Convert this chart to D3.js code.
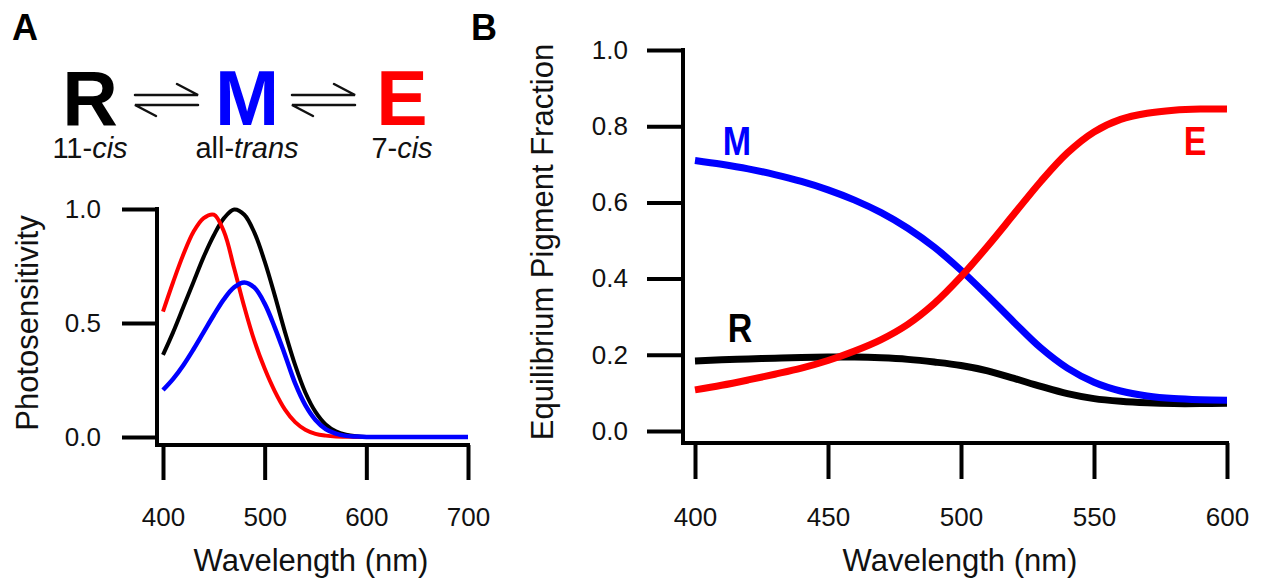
<!DOCTYPE html>
<html>
<head>
<meta charset="utf-8">
<script src="https://cdn.jsdelivr.net/npm/d3@7"></script>
<style>
    body { margin: 0; background: #fff; }
    svg text { font-family: Arial, "Liberation Sans", sans-serif; }
</style>
</head>
<body>
<div id="chart"></div>
<script>
// ---- data: panel A (photosensitivity spectra) ----
const wavelengthA = [400,410,420,430,440,450,460,470,480,490,500,510,520,530,540,550,560,570,580,590,600,620,640,660,680,700];
const sensR = [0.36,0.46,0.57,0.68,0.79,0.885,0.96,0.998,0.975,0.895,0.77,0.62,0.46,0.315,0.195,0.11,0.055,0.025,0.01,0.003,0,0,0,0,0,0];
const sensE = [0.55,0.68,0.80,0.90,0.96,0.975,0.90,0.74,0.57,0.42,0.30,0.20,0.12,0.065,0.032,0.014,0.006,0.002,0.001,0,0,0,0,0,0,0];
const sensM = [0.206,0.255,0.315,0.385,0.46,0.535,0.605,0.657,0.678,0.655,0.585,0.48,0.36,0.235,0.14,0.075,0.035,0.015,0.005,0.002,0,0,0,0,0,0];
const ticksAx = [400,500,600,700];
const ticksAy = [0,0.5,1];

// ---- data: panel B (equilibrium pigment fraction) ----
const wavelengthB = [400,410,420,430,440,450,460,470,480,490,500,510,520,530,540,550,560,570,580,590,600];
const fracM = [0.71,0.70,0.688,0.673,0.655,0.633,0.606,0.573,0.532,0.482,0.422,0.355,0.285,0.218,0.165,0.128,0.105,0.092,0.085,0.082,0.081];
const fracE = [0.108,0.12,0.134,0.149,0.165,0.185,0.21,0.24,0.28,0.335,0.405,0.485,0.57,0.655,0.73,0.785,0.818,0.834,0.842,0.845,0.845];
const fracR = [0.184,0.187,0.189,0.191,0.193,0.194,0.194,0.192,0.188,0.181,0.172,0.158,0.138,0.117,0.098,0.085,0.078,0.074,0.072,0.072,0.073];
const ticksBx = [400,450,500,550,600];
const ticksBy = [0,0.2,0.4,0.6,0.8,1.0];

const RED = "#ff0000", BLUE = "#0000ff", BLACK = "#000";

let svg = d3.select("#chart").append("svg")
    .attr("width", 1264)
    .attr("height", 581);

// generic IGOR-style axes: offset domain lines, long outward ticks
function drawAxes(x, y, opt) {
    let g = svg.append("g");

    // y axis
    let yAxis = g.append("g")
        .attr("transform", "translate(" + opt.yAxisX + ",0)")
        .call(d3.axisLeft(y).tickValues(opt.yTicks).tickSize(opt.tick)
            .tickPadding(opt.yPad).tickFormat(d3.format(".1f")));
    // x axis
    let xAxis = g.append("g")
        .attr("transform", "translate(0," + opt.xAxisY + ")")
        .call(d3.axisBottom(x).tickValues(opt.xTicks).tickSize(opt.tick)
            .tickPadding(opt.xPad).tickFormat(d3.format("d")));

    [yAxis, xAxis].forEach(a => {
        a.select(".domain").remove();
        a.selectAll("line").attr("stroke", "#000").attr("stroke-width", 4);
        a.selectAll("text").attr("font-size", "26px").attr("fill", "#111")
            .style("font-family", "Arial, 'Liberation Sans', sans-serif");
    });

    // domain lines
    g.append("line")
        .attr("x1", opt.yAxisX).attr("x2", opt.yAxisX)
        .attr("y1", y(opt.yTicks[opt.yTicks.length - 1]) - 2)
        .attr("y2", opt.xAxisY + 2)
        .attr("stroke", "#000").attr("stroke-width", 4);
    g.append("line")
        .attr("x1", opt.yAxisX - 2)
        .attr("x2", x(opt.xTicks[opt.xTicks.length - 1]) + 2)
        .attr("y1", opt.xAxisY).attr("y2", opt.xAxisY)
        .attr("stroke", "#000").attr("stroke-width", 4);

    // axis titles
    g.append("text")
        .attr("x", opt.xLabelX).attr("y", 571)
        .attr("text-anchor", "middle")
        .attr("font-size", "31px").attr("fill", "#111")
        .text("Wavelength (nm)");
    g.append("text")
        .attr("transform", "translate(" + opt.yLabelX + "," + opt.yLabelY + ") rotate(-90)")
        .attr("text-anchor", "middle")
        .attr("dominant-baseline", "central")
        .attr("font-size", "31px").attr("fill", "#111")
        .text(opt.yLabel);
}

function drawLine(x, y, xs, ys, color, width) {
    let line = d3.line()
        .curve(d3.curveCatmullRom.alpha(0.5))
        .x(d => x(d[0]))
        .y(d => y(d[1]));
    svg.append("path")
        .datum(xs.map((w, i) => [w, ys[i]]))
        .attr("d", line)
        .attr("fill", "none")
        .attr("stroke", color)
        .attr("stroke-width", width)
        .attr("stroke-linejoin", "round");
}

// ================= Panel A =================
let xA = d3.scaleLinear().domain([400, 700]).range([163, 468]);
let yA = d3.scaleLinear().domain([0, 1]).range([437, 209]);

drawAxes(xA, yA, {
    yAxisX: 157, xAxisY: 445, tick: 35, yPad: 21, xPad: 28,
    xTicks: ticksAx, yTicks: ticksAy,
    xLabelX: 311, yLabelX: 27, yLabelY: 323, yLabel: "Photosensitivity"
});

drawLine(xA, yA, wavelengthA, sensR, BLACK, 4);
drawLine(xA, yA, wavelengthA, sensE, RED, 4);
drawLine(xA, yA, wavelengthA, sensM, BLUE, 4.5);

// reaction scheme
const scheme = [
    {sym: "R", color: BLACK, x: 90, label: "11-", it: "cis"},
    {sym: "M", color: BLUE, x: 247, label: "all-", it: "trans"},
    {sym: "E", color: RED, x: 402, label: "7-", it: "cis"}
];
scheme.forEach(s => {
    svg.append("text")
        .attr("x", s.x).attr("y", 125)
        .attr("text-anchor", "middle")
        .attr("font-size", "77px").attr("font-weight", "bold")
        .attr("fill", s.color)
        .text(s.sym);
    let t = svg.append("text")
        .attr("x", s.x).attr("y", 158)
        .attr("text-anchor", "middle")
        .attr("font-size", "29px").attr("fill", "#111");
    t.append("tspan").text(s.label);
    t.append("tspan").attr("font-style", "italic").text(s.it);
});

// equilibrium harpoons
[135, 292].forEach(x0 => {
    let x1 = x0 + 63;
    let h = svg.append("g").attr("stroke", "#111").attr("stroke-width", 2.5)
        .attr("fill", "none").attr("stroke-linecap", "round");
    h.append("path").attr("d", `M${x0},95 L${x1},95 L${x1 - 21},84`);
    h.append("path").attr("d", `M${x1},105 L${x0},105 L${x0 + 21},116`);
});

// ================= Panel B =================
let xB = d3.scaleLinear().domain([400, 600]).range([695, 1227]);
let yB = d3.scaleLinear().domain([0, 1]).range([431, 50]);

drawAxes(xB, yB, {
    yAxisX: 683, xAxisY: 443, tick: 36, yPad: 19, xPad: 29,
    xTicks: ticksBx, yTicks: ticksBy,
    xLabelX: 960, yLabelX: 542, yLabelY: 242, yLabel: "Equilibrium Pigment Fraction"
});

drawLine(xB, yB, wavelengthB, fracR, BLACK, 7);
drawLine(xB, yB, wavelengthB, fracM, BLUE, 7);
drawLine(xB, yB, wavelengthB, fracE, RED, 7);

// curve labels
[{t: "M", c: BLUE, x: 737, y: 155}, {t: "E", c: RED, x: 1195, y: 155}, {t: "R", c: BLACK, x: 740, y: 342}]
    .forEach(l => {
        svg.append("text")
            .attr("x", l.x).attr("y", l.y)
            .attr("text-anchor", "middle")
            .attr("font-size", "40px").attr("font-weight", "bold")
            .attr("fill", l.c)
            .attr("transform", `translate(${l.x},0) scale(0.85,1) translate(${-l.x},0)`)
            .text(l.t);
    });

// panel letters
[{t: "A", x: 12}, {t: "B", x: 471}].forEach(p => {
    svg.append("text")
        .attr("x", p.x).attr("y", 40)
        .attr("font-size", "36px").attr("font-weight", "bold")
        .attr("fill", "#000")
        .text(p.t);
});
</script>
</body>
</html>
